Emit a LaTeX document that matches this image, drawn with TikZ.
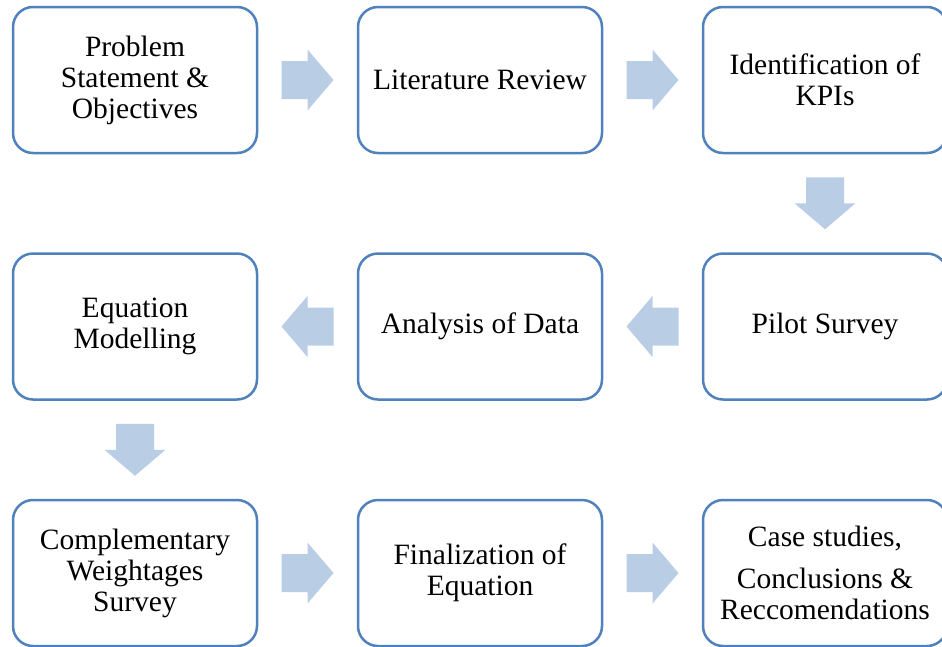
\documentclass[tikz,border=0pt]{standalone}
\usepackage{fontspec}
\setmainfont{Liberation Serif}
\usetikzlibrary{calc}
\definecolor{boxline}{RGB}{79,129,189}
\definecolor{arrowfill}{RGB}{185,205,229}
\begin{document}
\begin{tikzpicture}[x=1pt,y=-1pt,
  stepbox/.style={draw=boxline, line width=2.5pt, fill=white,
    rounded corners=20pt, minimum width=244pt, minimum height=146pt,
    align=center, inner sep=0pt, font=\fontsize{29.5}{31}\selectfont},
  blockarrow/.style={fill=arrowfill},
]
\useasboundingbox (0,0) rectangle (942,646);

% process steps
\node[stepbox] (b1) at (135,80)    {Problem\\Statement \&\\Objectives};
\node[stepbox] (b2) at (480,80)    {Literature Review};
\node[stepbox] (b3) at (825,80)    {Identification of\\KPIs};
\node[stepbox] (b4) at (825,326.5) {Pilot Survey};
\node[stepbox] (b5) at (480,326.5) {Analysis of Data};
\node[stepbox] (b6) at (135,326.5) {Equation\\Modelling};
\node[stepbox] (b7) at (135,573)   {Complementary\\Weightages\\Survey};
\node[stepbox] (b8) at (480,573)   {Finalization of\\Equation};
\node[stepbox] (b9) at (825,573)   {Case studies,\\[11pt]Conclusions \&\\Reccomendations};

% block arrow pointing along +x, origin at the base of the head
\newcommand\flowarrow[2]{%
  \fill[blockarrow, shift={(#1)}, rotate=#2]
    (-26,-19) -- (0,-19) -- (0,-30.5) -- (26,0) -- (0,30.5) -- (0,19) -- (-26,19) -- cycle;}

\coordinate (m12) at ($(b1.east)!0.5!(b2.west)$);
\coordinate (m23) at ($(b2.east)!0.5!(b3.west)$);
\coordinate (m34) at ($(b3.south)!0.5!(b4.north)$);
\coordinate (m45) at ($(b4.west)!0.5!(b5.east)$);
\coordinate (m56) at ($(b5.west)!0.5!(b6.east)$);
\coordinate (m67) at ($(b6.south)!0.5!(b7.north)$);
\coordinate (m78) at ($(b7.east)!0.5!(b8.west)$);
\coordinate (m89) at ($(b8.east)!0.5!(b9.west)$);

\flowarrow{m12}{0}
\flowarrow{m23}{0}
\flowarrow{m34}{-90}
\flowarrow{m45}{180}
\flowarrow{m56}{180}
\flowarrow{m67}{-90}
\flowarrow{m78}{0}
\flowarrow{m89}{0}
\end{tikzpicture}
\end{document}
